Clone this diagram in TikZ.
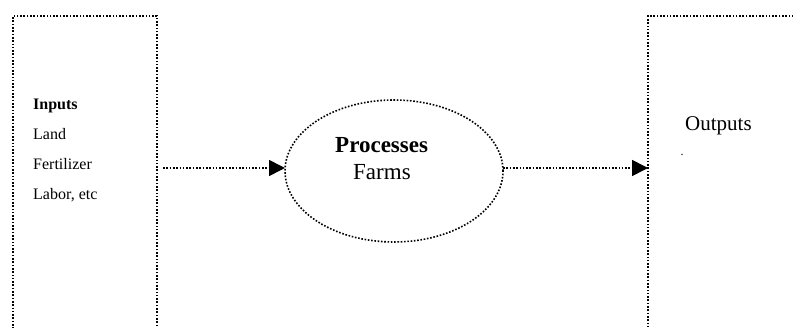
\documentclass[tikz,border=0pt]{standalone}
\usepackage{fontspec}
\setmainfont{Liberation Serif}
\usetikzlibrary{arrows.meta,shapes.geometric}
\tikzset{
  dotline/.style={line width=1.6pt, dash pattern=on 1.6pt off 1.7pt},
  boxshape/.style={draw, dotline, rectangle, inner sep=0pt, outer sep=0pt},
  ellshape/.style={draw, dotline, ellipse, inner sep=0pt, outer sep=0pt, minimum width=218pt, minimum height=142pt},
  flow/.style={dotline, -{Triangle[length=16pt,width=16pt]}, shorten >=0pt},
  smalltxt/.style={anchor=base west, inner sep=0pt, font=\fontsize{16}{18}\selectfont},
  bigtxt/.style={anchor=base west, inner sep=0pt, font=\fontsize{23}{26}\selectfont},
}
\begin{document}
\begin{tikzpicture}[x=1pt,y=-1pt]
\useasboundingbox (0,0) rectangle (793,328);
\clip (0,0) rectangle (793,328);
\node[boxshape, minimum width=144pt, minimum height=384pt] (inputs) at (85,208) {};
\node[boxshape, minimum width=252pt, minimum height=384pt] (outputs) at (774,208) {};
\node[ellshape] (proc) at (394,171) {};
\node[smalltxt, font=\fontsize{16}{18}\selectfont\bfseries] (tin) at (33,110) {Inputs};
\node[smalltxt] (tland) at (33,140) {Land};
\node[smalltxt] (tfert) at (33,170) {Fertilizer};
\node[smalltxt] (tlab) at (33,200) {Labor, etc};
\node[bigtxt, font=\fontsize{23}{26}\selectfont\bfseries] (tproc) at (335,153) {Processes};
\node[bigtxt] (tfarm) at (353,180) {Farms};
\node[anchor=base west, inner sep=0pt, font=\fontsize{21}{24}\selectfont] (tout) at (685,131) {Outputs};
\node[anchor=base west, inner sep=0pt, font=\fontsize{12}{14}\selectfont] (tdot) at (680.5,155.5) {.};
\coordinate (a1) at (163,168);
\draw[flow] (a1) -- (a1 -| proc.west);
\draw[flow] (a1 -| proc.east) -- (a1 -| outputs.west);
\end{tikzpicture}
\end{document}
